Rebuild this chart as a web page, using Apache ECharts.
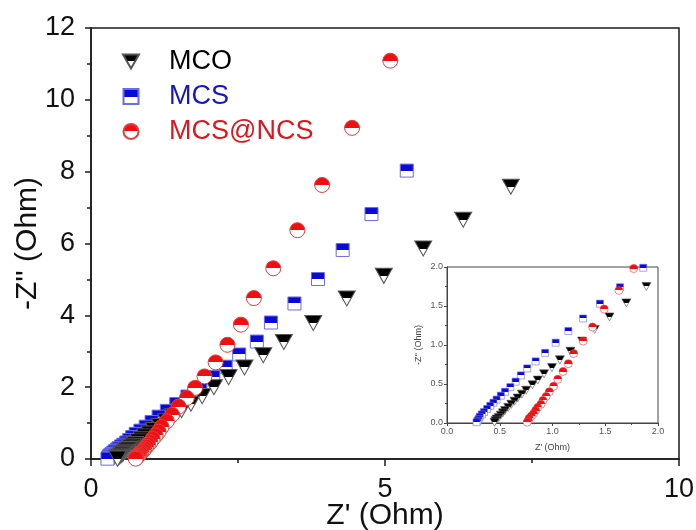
<!DOCTYPE html>
<html><head><meta charset="utf-8">
<script src="https://cdn.jsdelivr.net/npm/echarts@6/dist/echarts.min.js"></script>
<style>html,body{margin:0;padding:0;background:#fff}#c{width:696px;height:530px}</style>
</head><body><div id="c"></div>
<script>
// ---- data (Z' , -Z'' in Ohm) ----
const seriesNames = ['MCO', 'MCS', 'MCS@NCS'];
const mcoX = [7.14,6.33,5.65,4.98,4.35,3.78,3.28,2.93,2.61,2.34,2.09,1.89,1.70,1.54,1.40,1.28,1.17,1.07,0.995,0.92,0.86,0.81,0.75,0.71,0.67,0.64,0.61,0.58,0.55,0.53,0.51,0.49,0.47,0.46,0.45];
const mcoY = [7.58,6.66,5.86,5.10,4.47,3.79,3.26,2.89,2.55,2.28,2.00,1.75,1.54,1.36,1.20,1.05,0.92,0.81,0.71,0.63,0.55,0.49,0.42,0.37,0.32,0.28,0.24,0.20,0.16,0.13,0.10,0.07,0.05,0.03,0.01];
const mcsX = [5.37,4.77,4.28,3.86,3.46,3.06,2.82,2.52,2.29,2.08,1.86,1.64,1.45,1.29,1.15,1.03,0.93,0.84,0.76,0.70,0.65,0.60,0.55,0.51,0.47,0.44,0.41,0.38,0.35,0.33,0.31,0.30,0.29,0.28];
const mcsY = [8.03,6.82,5.82,5.01,4.33,3.80,3.27,2.91,2.57,2.28,1.99,1.74,1.53,1.34,1.18,1.03,0.90,0.79,0.70,0.61,0.53,0.46,0.40,0.35,0.30,0.26,0.22,0.18,0.14,0.11,0.08,0.05,0.03,0.01];
const ncsX = [5.09,4.44,3.93,3.51,3.10,2.77,2.55,2.32,2.12,1.93,1.77,1.63,1.49,1.38,1.29,1.20,1.15,1.10,1.05,1.01,0.97,0.94,0.91,0.89,0.86,0.84,0.82,0.80,0.78,0.77,0.76];
const ncsY = [11.09,9.22,7.63,6.37,5.31,4.48,3.74,3.18,2.69,2.30,1.98,1.70,1.46,1.23,1.05,0.89,0.76,0.66,0.56,0.47,0.40,0.34,0.29,0.24,0.20,0.16,0.12,0.09,0.06,0.03,0.01];
const mainXTicks = [0, 5, 10];
const mainYTicks = [0, 2, 4, 6, 8, 10, 12];
const insetTicks = [0.0, 0.5, 1.0, 1.5, 2.0];

const pairs = (xs, ys) => xs.map((x, i) => [x, ys[i]]);
const half = (top) => ({type:'linear', x:0, y:0, x2:0, y2:1,
  colorStops:[{offset:0,color:top},{offset:0.5,color:top},{offset:0.5,color:'#ffffff'},{offset:1,color:'#ffffff'}]});
const FONT = "'Liberation Sans', Arial, sans-serif";
const triPath = 'path://M0,0L16,0L8,14Z';
const sqPath = 'path://M0,0L10,0L10,10L0,10Z';

const styles = {
  'MCO': {symbol: triPath, size: [17,15], isize: [9,8], color: half('#000000'), border: '#555555', text: '#000000'},
  'MCS': {symbol: sqPath, size: [13,13], isize: [7,7], color: half('#0a0ad8'), border: '#6b6bea', text: '#1414c8'},
  'MCS@NCS': {symbol: 'circle', size: [15,15], isize: [8,8], color: half('#ee1010'), border: '#e43a3a', text: '#e0141c'}
};
const dataMap = {'MCO': pairs(mcoX, mcoY), 'MCS': pairs(mcsX, mcsY), 'MCS@NCS': pairs(ncsX, ncsY)};
const drawOrder = ['MCS', 'MCO', 'MCS@NCS'];

const series = [];
drawOrder.forEach(n => {
  const s = styles[n];
  series.push({name:n, type:'scatter', xAxisIndex:0, yAxisIndex:0, data:dataMap[n],
    symbol:s.symbol, symbolSize:s.size, symbolKeepAspect:false,
    itemStyle:{color:s.color, borderColor:s.border, borderWidth:1, opacity:1}, emphasis:{disabled:true}});
});
drawOrder.forEach(n => {
  const s = styles[n];
  series.push({name:n, type:'scatter', xAxisIndex:1, yAxisIndex:1, data:dataMap[n].filter(p => p[0] <= 2.02 && p[1] <= 2.02),
    symbol:s.symbol, symbolSize:s.isize, symbolKeepAspect:false, clip:true, z:5,
    itemStyle:{color:s.color, borderColor:s.border, borderWidth:0.6, opacity:1}, emphasis:{disabled:true}});
});

const chart = echarts.init(document.getElementById('c'), null, {renderer:'canvas'});
chart.setOption({
  backgroundColor:'#ffffff',
  animation:false,
  textStyle:{fontFamily:FONT},
  legend:{
    orient:'vertical', left:117, top:43, itemWidth:16, itemHeight:15, itemGap:8,
    selectedMode:false, symbolKeepAspect:true,
    textStyle:{fontFamily:FONT, fontSize:27},
    data: seriesNames.map(n => ({name:n, icon: styles[n].symbol,
      textStyle:{color: styles[n].text, fontSize:27, fontFamily:FONT, padding:[0,0,0,25]}}))
  },
  grid:[
    {left:91, top:28, width:588, height:431, show:true, borderColor:'#1a1a1a', borderWidth:1.5, backgroundColor:'#ffffff',
     containLabel:false, outerBoundsMode:'none'},
    {left:447, top:267, width:211, height:156, show:true, borderColor:'#444444', borderWidth:1, backgroundColor:'#ffffff', z:4,
     containLabel:false, outerBoundsMode:'none'}
  ],
  xAxis:[
    {gridIndex:0, type:'value', min:mainXTicks[0], max:mainXTicks[mainXTicks.length-1], interval:5,
     name:"Z' (Ohm)", nameLocation:'middle', nameGap:42, nameMoveOverlap:false,
     nameTextStyle:{fontSize:30, color:'#111', fontFamily:FONT},
     axisLine:{show:true, lineStyle:{color:'#1a1a1a', width:1.5}},
     axisTick:{show:true, length:7, lineStyle:{color:'#1a1a1a', width:1.5}},
     minorTick:{show:true, splitNumber:2, length:4, lineStyle:{color:'#1a1a1a', width:1.5}},
     splitLine:{show:false},
     axisLabel:{fontSize:27, color:'#111', margin:17, fontFamily:FONT}},
    {gridIndex:1, type:'value', min:insetTicks[0], max:insetTicks[insetTicks.length-1], interval:0.5,
     name:"Z' (Ohm)", nameLocation:'middle', nameGap:20, nameMoveOverlap:false,
     nameTextStyle:{fontSize:9, color:'#444', fontFamily:FONT},
     axisLine:{show:true, lineStyle:{color:'#444', width:1}},
     axisTick:{show:true, length:3, lineStyle:{color:'#444'}},
     minorTick:{show:true, splitNumber:2, length:2, lineStyle:{color:'#444'}},
     splitLine:{show:false},
     axisLabel:{fontSize:9, color:'#555', margin:4, fontFamily:FONT, formatter:v => v.toFixed(1)}, z:5}
  ],
  yAxis:[
    {gridIndex:0, type:'value', min:mainYTicks[0], max:mainYTicks[mainYTicks.length-1], interval:2,
     name:"-Z'' (Ohm)", nameLocation:'middle', nameGap:48, nameMoveOverlap:false,
     nameTextStyle:{fontSize:30, color:'#111', fontFamily:FONT},
     axisLine:{show:true, lineStyle:{color:'#1a1a1a', width:1.5}},
     axisTick:{show:true, length:6, lineStyle:{color:'#1a1a1a', width:1.5}},
     minorTick:{show:true, splitNumber:2, length:4, lineStyle:{color:'#1a1a1a', width:1.5}},
     splitLine:{show:false},
     axisLabel:{fontSize:27, color:'#111', margin:16, fontFamily:FONT}},
    {gridIndex:1, type:'value', min:insetTicks[0], max:insetTicks[insetTicks.length-1], interval:0.5,
     name:"-Z'' (Ohm)", nameLocation:'middle', nameGap:24, nameMoveOverlap:false,
     nameTextStyle:{fontSize:9, color:'#444', fontFamily:FONT},
     axisLine:{show:true, lineStyle:{color:'#444', width:1}},
     axisTick:{show:true, length:3, lineStyle:{color:'#444'}},
     minorTick:{show:true, splitNumber:2, length:2, lineStyle:{color:'#444'}},
     splitLine:{show:false},
     axisLabel:{fontSize:9, color:'#555', margin:4, fontFamily:FONT, formatter:v => v.toFixed(1)}, z:5}
  ],
  series: series
});
</script></body></html>
